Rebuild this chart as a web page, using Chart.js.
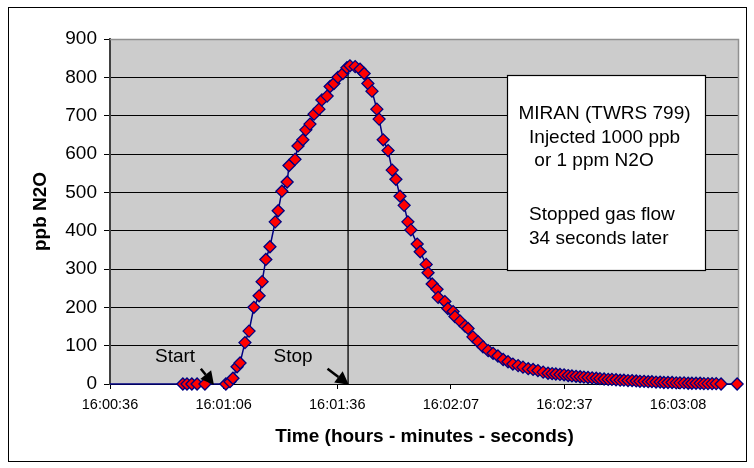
<!DOCTYPE html>
<html>
<head>
<meta charset="utf-8">
<script src="https://cdn.jsdelivr.net/npm/chart.js@4"></script>
<style>
  html, body { margin: 0; padding: 0; background: #ffffff; }
  #wrap { width: 754px; height: 468px; }
</style>
</head>
<body>
<div id="wrap"><canvas id="c" width="754" height="468"></canvas></div>
<script>
// ---- data (seconds after 16:00:36, ppb N2O) ----
const seconds = [0, 19.5, 20.6, 21.9, 23.3, 25.4, 31.0, 32.1, 32.9, 34.0, 34.8, 36.1, 37.2, 38.5, 39.9,
  40.7, 41.7, 42.8, 44.2, 45.0, 46.0, 47.4, 47.9, 49.5, 50.3, 51.6, 52.4, 53.5, 54.6, 55.9, 56.7,
  58.1, 58.9, 59.9, 61.0, 62.3, 63.4, 64.2, 65.6, 66.9, 68.0, 69.0, 70.1, 71.4, 72.0, 73.1, 74.4,
  75.5, 76.5, 77.6, 78.7, 79.7, 80.5, 82.2, 83.0, 84.6, 85.1, 86.2, 87.5, 87.8, 89.6, 90.4, 91.8,
  92.3, 93.7, 95.0, 95.8, 97.1, 98.5, 99.8, 101.2, 102.5, 103.8, 105.2, 106.5, 107.8, 109.2, 110.5,
  111.9, 113.2, 114.5, 115.9, 117.2, 118.3, 119.3, 120.4, 121.5, 122.6, 123.6, 124.7, 125.8, 126.8,
  127.9, 129.0, 130.1, 131.1, 132.2, 133.3, 134.3, 135.4, 136.5, 137.5, 138.6, 139.7, 140.8, 141.8,
  142.9, 144.0, 145.0, 146.1, 147.2, 148.2, 149.3, 150.4, 151.5, 152.5, 153.6, 154.7, 155.7, 156.8,
  157.9, 158.9, 160.0, 161.1, 162.2, 163.5, 167.8];
const ppbN2O = [0, 0, 0, 0, 0, 0, 0, 6, 15, 45, 55, 108, 138, 200, 230,
  267, 325, 358, 423, 452, 503, 527, 570, 586, 621, 637, 663, 678, 704, 717, 741,
  751, 776, 784, 800, 810, 825, 830, 828, 821, 810, 784, 764, 717, 691, 637, 609,
  558, 534, 490, 466, 423, 402, 365, 345, 312, 290, 261, 247, 226, 215, 197, 189,
  176, 164, 151, 145, 123, 110, 97, 87, 80, 73, 64, 58, 52, 48, 44,
  40, 38, 35, 31, 28, 27, 26, 25, 24, 22, 21, 20, 19, 18,
  17, 16, 15, 14, 13, 12, 12, 11, 10, 10, 9, 9, 8, 7,
  7, 6, 6, 5, 5, 4, 4, 4, 3, 3, 3, 2, 2, 2,
  2, 1, 1, 1, 1, 0, 0];
const xTickSeconds = [0, 30.4, 60.8, 91.2, 121.6, 152];
const xTickLabels = ['16:00:36', '16:01:06', '16:01:36', '16:02:07', '16:02:37', '16:03:08'];
const X_MAX = 168.3;
const Y_MIN = 0, Y_MAX = 900, Y_STEP = 100;

// annotations (in data units)
const boxLines = ['MIRAN (TWRS 799)', '  Injected 1000 ppb', '   or 1 ppm N2O', '', '  Stopped gas flow', '  34 seconds later'];
const stopLineAt = { x: 63.7, yFrom: 0, yTo: 830 };
const labelStart = { text: 'Start', x: 17.4, y: 70 };
const labelStop = { text: 'Stop', x: 49.0, y: 70 };
const arrowStart = { x1: 24.3, y1: 40, x2: 27.8, y2: -2 };
const arrowStop = { x1: 58.2, y1: 40, x2: 63.9, y2: -2 };
const textBox = { x1: 106.2, x2: 159.2, yTop: 806, yBottom: 297 };

const FONT = "'Liberation Sans', Arial, sans-serif";

const plotDecor = {
  id: 'plotDecor',
  beforeDraw(chart) {
    const { ctx, chartArea: a } = chart;
    ctx.save();
    ctx.fillStyle = '#ffffff';
    ctx.fillRect(0, 0, chart.width, chart.height);
    ctx.fillStyle = '#cccccc';
    ctx.fillRect(a.left, a.top, a.right - a.left, a.bottom - a.top);
    ctx.restore();
  },
  beforeDatasetsDraw(chart) {
    const { ctx, chartArea: a, scales: { x, y } } = chart;
    ctx.save();
    ctx.strokeStyle = '#909090';
    ctx.lineWidth = 1.5;
    ctx.beginPath();
    ctx.moveTo(a.left, a.top + 0.5);
    ctx.lineTo(a.right - 0.5, a.top + 0.5);
    ctx.lineTo(a.right - 0.5, a.bottom);
    ctx.stroke();
    // stop vertical line
    ctx.strokeStyle = '#000000';
    ctx.lineWidth = 1.3;
    ctx.beginPath();
    const sx = x.getPixelForValue(stopLineAt.x);
    ctx.moveTo(sx, y.getPixelForValue(stopLineAt.yTo));
    ctx.lineTo(sx, y.getPixelForValue(stopLineAt.yFrom));
    ctx.stroke();
    ctx.restore();
  },
  afterDatasetsDraw(chart) {
    const { ctx, scales: { x, y } } = chart;
    ctx.save();
    // arrows
    const drawArrow = (ar) => {
      const x1 = x.getPixelForValue(ar.x1), y1 = y.getPixelForValue(ar.y1);
      const x2 = x.getPixelForValue(ar.x2), y2 = y.getPixelForValue(ar.y2);
      const ang = Math.atan2(y2 - y1, x2 - x1);
      const hl = 13, hw = 7;
      const bx = x2 - hl * Math.cos(ang), by = y2 - hl * Math.sin(ang);
      ctx.strokeStyle = '#000'; ctx.fillStyle = '#000'; ctx.lineWidth = 2.5;
      ctx.beginPath(); ctx.moveTo(x1, y1); ctx.lineTo(bx, by); ctx.stroke();
      ctx.beginPath();
      ctx.moveTo(x2, y2);
      ctx.lineTo(bx + hw * Math.sin(ang), by - hw * Math.cos(ang));
      ctx.lineTo(bx - hw * Math.sin(ang), by + hw * Math.cos(ang));
      ctx.closePath(); ctx.fill();
    };
    drawArrow(arrowStart);
    drawArrow(arrowStop);
    // labels
    ctx.font = '19px ' + FONT;
    ctx.fillStyle = '#000';
    ctx.textAlign = 'center';
    ctx.textBaseline = 'middle';
    [labelStart, labelStop].forEach(l => ctx.fillText(l.text, x.getPixelForValue(l.x), y.getPixelForValue(l.y)));
    // text box
    const bx1 = Math.round(x.getPixelForValue(textBox.x1)) + 0.5;
    const bx2 = Math.round(x.getPixelForValue(textBox.x2)) + 0.5;
    const by1 = Math.round(y.getPixelForValue(textBox.yTop)) + 0.5;
    const by2 = Math.round(y.getPixelForValue(textBox.yBottom)) + 0.5;
    ctx.fillStyle = '#ffffff';
    ctx.fillRect(bx1, by1, bx2 - bx1, by2 - by1);
    ctx.strokeStyle = '#000'; ctx.lineWidth = 1.2;
    ctx.strokeRect(bx1, by1, bx2 - bx1, by2 - by1);
    ctx.fillStyle = '#000';
    ctx.textAlign = 'left';
    const offs = [38.3, 62.7, 85, 112, 139, 163.3];
    boxLines.forEach((t, i) => { if (t) ctx.fillText(t, bx1 + 11, by1 + offs[i]); });
    ctx.restore();
  },
  afterDraw(chart) {
    const { ctx } = chart;
    ctx.save();
    ctx.strokeStyle = '#000'; ctx.lineWidth = 1;
    ctx.strokeRect(8.5, 7.5, 738, 454);
    ctx.restore();
  }
};

new Chart(document.getElementById('c'), {
  type: 'line',
  data: {
    datasets: [{
      data: seconds.map((s, i) => ({ x: s, y: ppbN2O[i] })),
      borderColor: '#000080',
      borderWidth: 1.5,
      backgroundColor: '#ff0000',
      pointStyle: 'rectRot',
      pointRadius: ctx => ctx.dataIndex === 0 ? 0 : 6,
      pointBackgroundColor: '#ff0000',
      pointBorderColor: '#000080',
      pointBorderWidth: 1.3,
      tension: 0,
      clip: false
    }]
  },
  options: {
    responsive: false,
    animation: false,
    events: [],
    layout: { padding: { left: 20, right: 15, top: 39, bottom: 20 } },
    plugins: { legend: { display: false }, tooltip: { enabled: false } },
    scales: {
      x: {
        type: 'linear',
        min: 0, max: X_MAX,
        afterBuildTicks: s => { s.ticks = xTickSeconds.map(v => ({ value: v })); },
        afterFit: s => { s.height = 64; },
        ticks: {
          autoSkip: false, maxRotation: 0, padding: 7,
          color: '#000', font: { family: FONT, size: 14.5 },
          callback: (v, i) => xTickLabels[i]
        },
        grid: { drawOnChartArea: false, drawTicks: true, tickLength: 5, tickColor: '#000' },
        border: { display: true, color: '#000', width: 1 },
        title: {
          display: true, text: 'Time (hours - minutes - seconds)', color: '#000',
          font: { family: FONT, size: 19, weight: 'bold' }, padding: { top: 0, bottom: 0 }
        }
      },
      y: {
        min: Y_MIN, max: Y_MAX,
        afterFit: s => { s.width = 90; },
        ticks: { stepSize: Y_STEP, padding: 7, color: '#000', font: { family: FONT, size: 19 } },
        grid: {
          color: c => (c.tick && c.tick.value === Y_MAX) ? '#909090' : '#000000',
          lineWidth: 1, tickLength: 6, tickColor: '#000'
        },
        border: { display: true, color: '#404040', width: 2 },
        title: {
          display: true, text: 'ppb N2O', color: '#000',
          font: { family: FONT, size: 19, weight: 'bold' }, padding: { top: 9, bottom: 0 }
        }
      }
    }
  },
  plugins: [plotDecor]
});
</script>
</body>
</html>
